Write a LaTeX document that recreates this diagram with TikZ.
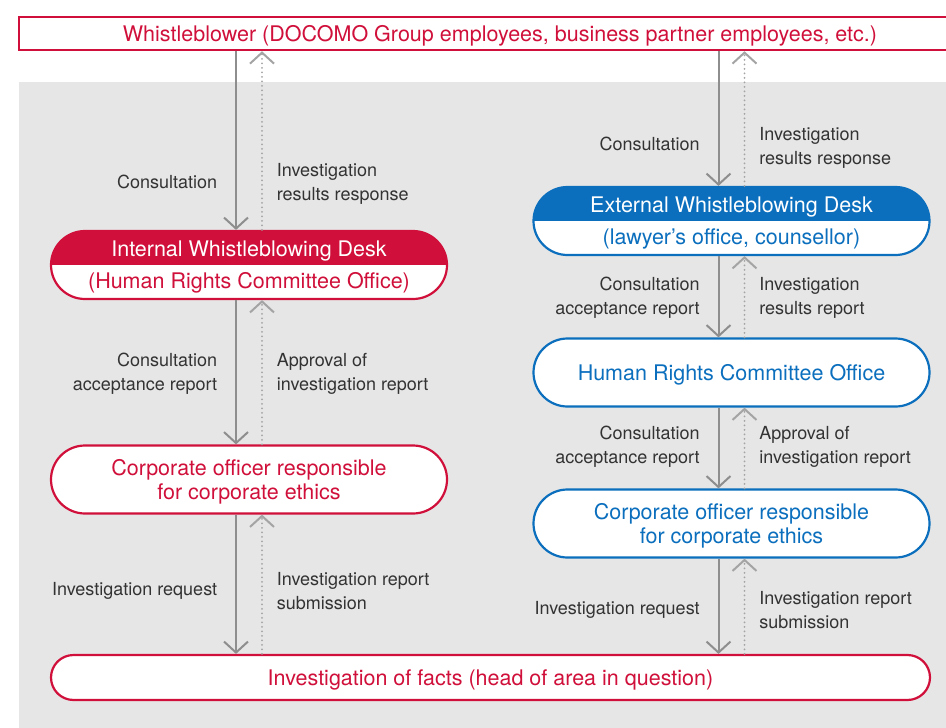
\documentclass[tikz,border=0pt]{standalone}
\usepackage{fontspec}
\setmainfont{TeX Gyre Heros}
\usetikzlibrary{arrows.meta, positioning, shapes.misc}
\definecolor{docoRed}{HTML}{D0103A}
\definecolor{docoBlue}{HTML}{0B6FBE}
\definecolor{bgGray}{HTML}{E6E6E6}
\definecolor{lineGray}{HTML}{8E8E8E}
\definecolor{dotGray}{HTML}{A4A4A4}
\definecolor{textDark}{HTML}{333333}
\tikzset{
  arrowS/.style={-{Straight Barb[length=11pt, width=24pt]}, color=lineGray, line width=2pt},
  arrowD/.style={-{Straight Barb[length=11pt, width=24pt]}, color=dotGray, line width=2pt,
                 line cap=round, dash pattern=on 0pt off 4.5pt},
  boxTop/.style={rectangle, draw=docoRed, line width=2.5pt, fill=white, text=docoRed,
                 minimum width=962pt, minimum height=33pt, inner sep=0pt, text depth=0pt,
                 font=\fontsize{21.5}{24}\selectfont},
  pillRed/.style={rounded rectangle, draw=docoRed, line width=2.2pt, fill=white,
                  text=docoRed, align=center, minimum width=396pt, minimum height=68pt,
                  inner sep=0pt, text depth=0pt, font=\fontsize{21.5}{24}\selectfont},
  pillBlue/.style={pillRed, draw=docoBlue, text=docoBlue},
  splitRed/.style={font=\fontsize{21.5}{32}\selectfont, path picture={
      \fill[docoRed] (path picture bounding box.north west) rectangle (path picture bounding box.east);}},
  splitBlue/.style={font=\fontsize{21.5}{32}\selectfont, path picture={
      \fill[docoBlue] (path picture bounding box.north west) rectangle (path picture bounding box.east);}},
  labelL/.style={anchor=east, xshift=-14.5pt, align=right, text=textDark,
                 font=\fontsize{18}{24}\selectfont},
  labelR/.style={anchor=west, xshift=36.5pt, align=left, text=textDark,
                 font=\fontsize{18}{24}\selectfont},
}
\begin{document}
\begin{tikzpicture}[x=1pt, y=-1pt]
  \useasboundingbox (0,0) rectangle (946,728);
  \fill[bgGray] (19,82) rectangle (946,728);

  % boxes
  \node[boxTop] (whistle) at (500,33.5) {Whistleblower (DOCOMO Group employees, business partner employees, etc.)};
  \node[pillRed, splitRed] (intDesk) at (249,265)
    {\textcolor{white}{Internal Whistleblowing Desk}\\(Human Rights Committee Office)};
  \node[pillRed] (officerL) at (249,479.5) {Corporate officer responsible\\for corporate ethics};
  \node[pillBlue, splitBlue] (extDesk) at (731.5,221)
    {\textcolor{white}{External Whistleblowing Desk}\\(lawyer’s office, counsellor)};
  \node[pillBlue] (hrOffice) at (731.5,372.5) {Human Rights Committee Office};
  \node[pillBlue] (officerR) at (731.5,523.5) {Corporate officer responsible\\for corporate ethics};
  \node[pillRed, minimum width=879pt, minimum height=45pt] (facts) at (490.5,677.5)
    {Investigation of facts (head of area in question)};

  % left column
  \draw[arrowS] ([xshift=-13pt]intDesk.north |- whistle.south) -- ([xshift=-13pt]intDesk.north)
    node[pos=.73, labelL] {Consultation}
    node[pos=.74, labelR] {Investigation\\results response};
  \draw[arrowD] ([xshift=13pt]intDesk.north) -- ([xshift=13pt]intDesk.north |- whistle.south);
  \draw[arrowS] ([xshift=-13pt]intDesk.south) -- ([xshift=-13pt]officerL.north)
    node[pos=.51, labelL] {Consultation\\acceptance report}
    node[pos=.51, labelR] {Approval of\\investigation report};
  \draw[arrowD] ([xshift=13pt]officerL.north) -- ([xshift=13pt]intDesk.south);
  \draw[arrowS] ([xshift=-13pt]officerL.south) -- ([xshift=-13pt]officerL.south |- facts.north)
    node[pos=.55, labelL] {Investigation request}
    node[pos=.55, labelR] {Investigation report\\submission};
  \draw[arrowD] ([xshift=13pt]officerL.south |- facts.north) -- ([xshift=13pt]officerL.south);

  % right column
  \draw[arrowS] ([xshift=-13pt]extDesk.north |- whistle.south) -- ([xshift=-13pt]extDesk.north)
    node[pos=.69, labelL] {Consultation}
    node[pos=.72, labelR] {Investigation\\results response};
  \draw[arrowD] ([xshift=13pt]extDesk.north) -- ([xshift=13pt]extDesk.north |- whistle.south);
  \draw[arrowS] ([xshift=-13pt]extDesk.south) -- ([xshift=-13pt]hrOffice.north)
    node[pos=.51, labelL] {Consultation\\acceptance report}
    node[pos=.51, labelR] {Investigation\\results report};
  \draw[arrowD] ([xshift=13pt]hrOffice.north) -- ([xshift=13pt]extDesk.south);
  \draw[arrowS] ([xshift=-13pt]hrOffice.south) -- ([xshift=-13pt]officerR.north)
    node[pos=.48, labelL] {Consultation\\acceptance report}
    node[pos=.48, labelR] {Approval of\\investigation report};
  \draw[arrowD] ([xshift=13pt]officerR.north) -- ([xshift=13pt]hrOffice.south);
  \draw[arrowS] ([xshift=-13pt]officerR.south) -- ([xshift=-13pt]officerR.south |- facts.north)
    node[pos=.54, labelL] {Investigation request}
    node[pos=.54, labelR] {Investigation report\\submission};
  \draw[arrowD] ([xshift=13pt]officerR.south |- facts.north) -- ([xshift=13pt]officerR.south);
\end{tikzpicture}
\end{document}
